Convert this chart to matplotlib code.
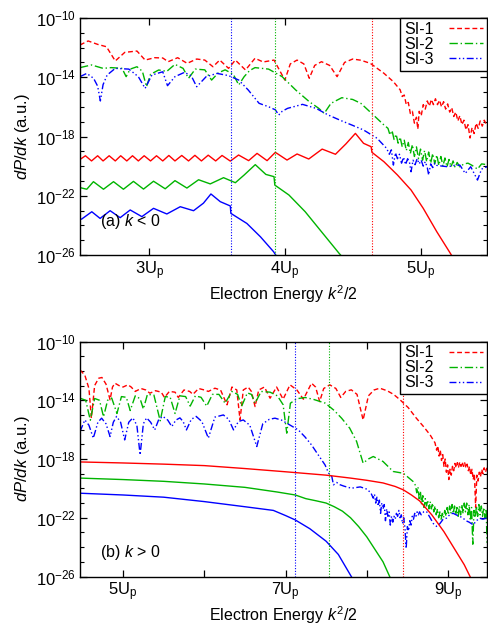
import numpy as np
import matplotlib
matplotlib.use("Agg")
import matplotlib.pyplot as plt
from matplotlib.ticker import FixedLocator, LogLocator, NullFormatter, LogFormatterMathtext

plt.rcParams['font.family'] = ['Liberation Sans', 'DejaVu Sans']
plt.rcParams['mathtext.fontset'] = 'custom'
plt.rcParams['mathtext.rm'] = 'Liberation Sans'
plt.rcParams['mathtext.it'] = 'Liberation Sans:italic'
plt.rcParams['font.size'] = 11

# ---------------- panel (a) k < 0 : energies in Up, values as log10(dP/dk)
a_si1_x = [2.49, 2.55, 2.62, 2.685, 2.75, 2.82, 2.91, 2.97, 3.04, 3.10, 3.14, 3.21, 3.28, 3.35,
           3.41, 3.47, 3.52, 3.585, 3.635, 3.71, 3.78, 3.84, 3.92, 4.00, 4.04, 4.09, 4.14, 4.18,
           4.22, 4.27, 4.33, 4.385, 4.44, 4.50, 4.56, 4.63, 4.73, 4.80,
           4.85, 4.865, 4.88, 4.895, 4.91, 4.925, 4.94, 4.955, 4.97, 4.98, 4.99, 5.005, 5.02,
           5.035, 5.05, 5.065, 5.08, 5.095, 5.11, 5.125, 5.14, 5.155, 5.17, 5.185, 5.20, 5.215,
           5.23, 5.245, 5.26, 5.275, 5.29, 5.305, 5.32, 5.335, 5.35, 5.365, 5.38, 5.395, 5.41,
           5.425, 5.44, 5.455, 5.47, 5.485]
a_si1_y = [-11.82, -11.55, -11.78, -11.94, -12.9, -12.32, -12.23, -12.84, -12.68, -12.7, -12.95,
           -12.68, -13.06, -12.77, -12.84, -13.29, -12.84, -13.40, -12.84, -13.51, -12.72, -12.97,
           -12.84, -14.19, -13.1, -12.84, -13.1, -14.07, -13.2, -12.95, -13.2, -13.96, -13.0,
           -12.77, -12.85, -13.06, -13.73, -14.3,
           -14.85, -15.3, -15.2, -15.85, -15.7, -16.45, -16.3, -17.1, -16.7, -17.5, -16.3, -16.6,
           -15.85, -16.15, -15.6, -15.95, -15.5, -15.85, -15.45, -15.85, -15.55, -16.0, -15.65,
           -16.15, -15.8, -16.35, -16.05, -16.65, -16.35, -16.95, -16.6, -17.2, -16.9, -17.55,
           -17.2, -18.1, -17.4, -17.8, -17.1, -17.45, -16.95, -17.3, -16.9, -17.2]

a_si2_x = [2.49, 2.575, 2.66, 2.72, 2.80, 2.83, 2.86, 2.91, 2.95, 2.98, 3.01, 3.07, 3.13, 3.19,
           3.25, 3.29, 3.34, 3.41, 3.46, 3.51, 3.56, 3.62, 3.66, 3.70, 3.74, 3.78, 3.88, 3.98,
           4.08, 4.18, 4.25, 4.29, 4.34, 4.42, 4.50, 4.56, 4.64, 4.73,
           4.76, 4.775, 4.79, 4.805, 4.82, 4.835, 4.85, 4.865, 4.88, 4.895, 4.91, 4.925, 4.94,
           4.955, 4.97, 4.985, 5.00, 5.015, 5.03, 5.045, 5.06, 5.075, 5.09, 5.105, 5.12, 5.135,
           5.15, 5.165, 5.18, 5.195, 5.21, 5.225, 5.24, 5.255, 5.27, 5.29, 5.32, 5.35, 5.38,
           5.42, 5.45, 5.49]
a_si2_y = [-13.35, -13.17, -13.40, -13.35, -13.4, -13.96, -13.45, -13.29, -13.6, -14.64, -13.8,
           -13.51, -13.6, -13.13, -13.4, -14.07, -13.45, -13.5, -14.19, -13.7, -13.5, -13.8,
           -14.52, -13.96, -13.55, -13.35, -13.45, -13.96, -14.86, -15.65, -16.1, -16.44, -15.76,
           -15.38, -15.5, -15.76, -16.44, -17.22,
           -17.45, -17.9, -17.6, -18.2, -17.85, -18.45, -18.05, -18.7, -18.25, -18.95, -18.4,
           -19.15, -18.55, -19.35, -18.7, -19.5, -18.85, -19.6, -18.95, -19.7, -19.05, -19.8,
           -19.15, -19.85, -19.25, -19.95, -19.35, -20.0, -19.45, -20.05, -19.55, -20.05, -19.65,
           -20.1, -19.75, -20.05, -19.85, -19.8, -19.95, -20.2, -19.85, -19.9]

a_si3_x = [2.49, 2.54, 2.59, 2.62, 2.64, 2.66, 2.69, 2.75, 2.85, 2.92, 2.97, 3.02, 3.10, 3.135,
           3.19, 3.26, 3.31, 3.35, 3.42, 3.50, 3.585, 3.66, 3.73, 3.81, 3.88, 3.93, 3.955, 3.98,
           4.02, 4.13, 4.23, 4.32, 4.42, 4.50, 4.58, 4.68, 4.75,
           4.77, 4.785, 4.80, 4.815, 4.83, 4.845, 4.86, 4.875, 4.89, 4.905, 4.92, 4.93, 4.945,
           4.96, 4.975, 4.99, 5.005, 5.02, 5.035, 5.05, 5.06, 5.075, 5.09, 5.105, 5.12, 5.16,
           5.20, 5.25, 5.29, 5.33, 5.37, 5.42, 5.45, 5.49]
a_si3_y = [-13.96, -13.74, -14.07, -14.6, -15.6, -14.5, -13.85, -13.40, -13.45, -13.96, -14.75,
           -13.85, -13.63, -14.57, -13.96, -13.67, -13.9, -14.64, -13.96, -13.74, -13.89, -14.19,
           -14.86, -15.76, -15.99, -16.2, -16.55, -16.3, -16.10, -15.83, -16.1, -16.55, -16.95,
           -17.25, -17.56, -18.12, -18.8,
           -19.2, -18.9, -19.93, -19.1, -19.5, -19.2, -19.8, -19.4, -19.9, -19.5, -19.8, -20.38,
           -19.6, -19.9, -19.5, -19.85, -19.6, -20.0, -19.7, -20.1, -20.6, -19.85, -20.1, -19.8,
           -19.95, -20.0, -20.04, -19.95, -19.93, -20.49, -20.04, -20.94, -20.2, -20.04]

a_si1s_x = [2.49, 2.53, 2.575, 2.62, 2.66, 2.705, 2.75, 2.79, 2.835, 2.877, 2.92, 2.963, 3.01,
            3.054, 3.10, 3.145, 3.19, 3.24, 3.29, 3.337, 3.385, 3.435, 3.49, 3.537, 3.598, 3.659,
            3.733, 3.795, 3.869, 3.93, 4.016, 4.09, 4.176, 4.275, 4.373, 4.45, 4.52, 4.58, 4.636,
            4.642, 4.73, 4.83, 4.93, 5.02, 5.12, 5.22, 5.24]
a_si1s_y = [-19.55, -19.30, -19.65, -19.30, -19.65, -19.30, -19.65, -19.30, -19.65, -19.30,
            -19.65, -19.30, -19.65, -19.30, -19.65, -19.28, -19.65, -19.28, -19.65, -19.27,
            -19.65, -19.26, -19.65, -19.28, -19.66, -19.25, -19.63, -19.14, -19.63, -19.07,
            -19.59, -19.18, -19.52, -18.85, -19.20, -18.5, -17.79, -18.46, -18.69, -19.07,
            -19.70, -20.6, -21.61, -22.85, -24.43, -25.89, -26.2]

a_si2s_x = [2.49, 2.54, 2.589, 2.663, 2.737, 2.81, 2.884, 2.958, 3.032, 3.118, 3.19, 3.278,
            3.364, 3.45, 3.548, 3.635, 3.70, 3.782, 3.86, 3.92, 3.926, 4.03, 4.15, 4.27, 4.40, 4.42]
a_si2s_y = [-21.45, -21.56, -21.05, -21.56, -21.05, -21.56, -21.03, -21.55, -21.02, -21.53,
            -20.98, -21.48, -20.92, -21.2, -20.78, -21.12, -20.6, -19.90, -20.56, -20.71,
            -21.28, -21.95, -23.08, -24.43, -25.89, -26.1]

a_si3s_x = [2.49, 2.503, 2.577, 2.638, 2.712, 2.786, 2.86, 2.946, 3.032, 3.13, 3.229, 3.327,
            3.40, 3.455, 3.524, 3.598, 3.602, 3.72, 3.82, 3.917, 3.94]
a_si3s_y = [-23.6, -23.57, -23.08, -23.53, -23.01, -23.48, -22.96, -23.41, -22.85, -23.23,
            -22.74, -23.01, -22.5, -21.88, -22.40, -22.69, -23.19, -23.87, -24.77, -25.78, -26.1]

a_vlines = [3.60, 3.925, 4.64]

# ---------------- panel (b) k > 0
b_si1_x = [4.47, 4.53, 4.58, 4.61, 4.65, 4.70, 4.74, 4.79, 4.84, 4.87, 4.90, 4.95, 5.00, 5.06,
           5.10, 5.15, 5.22, 5.28, 5.33, 5.40, 5.47, 5.51, 5.57, 5.64, 5.68, 5.75, 5.82, 5.86,
           5.93, 6.00, 6.05, 6.13, 6.20, 6.28, 6.34, 6.40, 6.44, 6.48, 6.54, 6.58, 6.625, 6.67,
           6.74, 6.81, 6.89, 6.97, 7.055, 7.14, 7.22, 7.32, 7.37, 7.42, 7.47, 7.545, 7.62, 7.68,
           7.74, 7.81, 7.88, 7.955, 8.02, 8.09, 8.16, 8.25, 8.33, 8.41, 8.51, 8.61, 8.70, 8.78,
           8.84, 8.86, 8.875, 8.89, 8.905, 8.92, 8.935, 8.95, 8.965, 8.98, 8.995, 9.01, 9.025,
           9.04, 9.055, 9.07, 9.085, 9.10, 9.115, 9.13, 9.145, 9.16, 9.175, 9.19, 9.205, 9.22,
           9.235, 9.25, 9.265, 9.28, 9.295, 9.31, 9.325, 9.34, 9.355, 9.37, 9.385, 9.40, 9.415,
           9.43, 9.445, 9.46, 9.48]
b_si1_y = [-11.93, -12.3, -13.2, -15.22, -13.0, -12.5, -12.45, -12.9, -13.97, -13.1, -12.84,
           -13.0, -13.1, -12.95, -13.1, -13.40, -13.2, -13.3, -13.52, -13.35, -13.45, -13.81,
           -13.4, -13.45, -13.81, -13.3, -13.4, -13.6, -13.2, -13.3, -13.4, -13.18, -13.3, -14.31,
           -13.1, -13.3, -15.34, -13.3, -13.1, -13.4, -14.43, -13.3, -13.1, -13.86, -13.1, -13.93,
           -12.95, -13.3, -13.93, -12.84, -13.1, -14.09, -13.2, -12.95, -13.2, -13.81, -13.4,
           -13.29, -13.6, -15.34, -13.7, -13.3, -13.18, -13.35, -13.6, -13.97, -14.5, -15.22,
           -15.8, -16.36, -16.9, -17.4, -17.1, -17.8, -17.4, -18.1, -17.7, -18.5, -18.0, -18.9,
           -18.4, -19.4, -18.7, -19.1, -18.5, -18.8, -18.3, -18.6, -18.25, -18.55, -18.2, -18.5,
           -18.2, -18.5, -18.25, -18.6, -18.35, -18.8, -18.5, -19.1, -18.7, -19.4, -19.0, -21.3,
           -19.1, -19.5, -18.9, -19.2, -18.7, -19.0, -18.6, -18.9, -18.6]

b_si2_x = [4.47, 4.54, 4.597, 4.65, 4.71, 4.76, 4.81, 4.86, 4.925, 4.98, 5.04, 5.088, 5.15,
           5.21, 5.25, 5.30, 5.38, 5.457, 5.52, 5.58, 5.64, 5.70, 5.77, 5.826, 5.89, 5.96, 6.03,
           6.10, 6.18, 6.256, 6.34, 6.41, 6.46, 6.53, 6.58, 6.625, 6.70, 6.81, 6.90, 6.97, 7.015,
           7.06, 7.14, 7.24, 7.35, 7.49, 7.60, 7.69, 7.79, 7.875, 7.955, 8.02, 8.08, 8.20, 8.325,
           8.45, 8.57, 8.60, 8.615, 8.63, 8.645, 8.66, 8.675, 8.69, 8.705, 8.72, 8.735, 8.75,
           8.765, 8.78, 8.795, 8.81, 8.825, 8.84, 8.855, 8.87, 8.885, 8.90, 8.915, 8.93, 8.945,
           8.96, 8.975, 8.99, 9.005, 9.02, 9.035, 9.05, 9.065, 9.08, 9.095, 9.11, 9.125, 9.14,
           9.155, 9.17, 9.185, 9.20, 9.215, 9.23, 9.245, 9.26, 9.275, 9.29, 9.305, 9.32, 9.335,
           9.35, 9.365, 9.38, 9.395, 9.41, 9.425, 9.44, 9.455, 9.47, 9.48]
b_si2_y = [-13.86, -14.0, -15.36, -13.88, -14.0, -15.13, -14.0, -13.85, -14.9, -13.75, -13.8,
           -14.7, -13.7, -13.9, -14.6, -13.6, -13.65, -15.4, -13.75, -13.8, -14.9, -13.7, -13.75,
           -14.4, -13.7, -13.8, -14.4, -13.6, -13.6, -14.2, -13.40, -13.6, -14.4, -13.5, -13.6,
           -14.2, -13.4, -13.45, -13.7, -14.3, -16.24, -14.2, -13.9, -13.81, -13.95, -14.2, -14.7,
           -15.22, -15.90, -16.81, -18.28, -18.0, -17.83, -18.17, -18.85, -18.97, -19.53, -19.8,
           -20.3, -19.9, -20.7, -20.2, -21.1, -20.5, -21.3, -20.7, -21.2, -20.8, -21.4, -20.9,
           -21.4, -21.0, -21.6, -21.2, -21.8, -21.4, -22.0, -21.6, -22.1, -21.7, -22.0, -21.5,
           -21.9, -21.3, -21.8, -21.2, -21.7, -21.1, -21.7, -21.2, -21.8, -21.3, -21.9, -21.2,
           -21.8, -21.1, -21.7, -21.0, -21.6, -21.0, -21.8, -21.1, -22.2, -21.3, -23.8, -21.5,
           -22.0, -21.2, -21.9, -21.1, -21.8, -21.2, -21.9, -21.3, -22.0, -21.4, -23.7]

b_si3_x = [4.47, 4.53, 4.58, 4.634, 4.69, 4.736, 4.79, 4.84, 4.88, 4.92, 4.97, 5.02, 5.07, 5.12,
           5.17, 5.21, 5.25, 5.29, 5.34, 5.39, 5.44, 5.49, 5.55, 5.60, 5.65, 5.70, 5.74, 5.78,
           5.84, 5.90, 5.97, 6.05, 6.13, 6.235, 6.30, 6.36, 6.42, 6.48, 6.56, 6.646, 6.72, 6.80,
           6.87, 6.95, 7.015, 7.157, 7.24, 7.32, 7.40, 7.486, 7.53, 7.57, 7.59, 7.63, 7.67, 7.72,
           7.81, 7.92, 8.00, 8.05, 8.08, 8.095, 8.11, 8.125, 8.14, 8.155, 8.17, 8.185, 8.20,
           8.215, 8.23, 8.245, 8.26, 8.275, 8.29, 8.305, 8.32, 8.335, 8.35, 8.365, 8.38, 8.395,
           8.41, 8.425, 8.44, 8.455, 8.47, 8.485, 8.50, 8.515, 8.53, 8.545, 8.56, 8.575, 8.59,
           8.605, 8.62, 8.635, 8.65, 8.67, 8.70, 8.735, 8.78, 8.82, 8.86, 8.90, 8.94, 8.98, 9.02,
           9.06, 9.10, 9.14, 9.18, 9.22, 9.26, 9.31, 9.35, 9.39, 9.43, 9.48]
b_si3_y = [-16.13, -15.34, -15.7, -16.58, -15.5, -15.22, -15.6, -16.47, -15.5, -15.1, -15.5,
           -16.70, -15.5, -15.2, -15.7, -17.72, -15.6, -15.2, -15.5, -16.02, -15.3, -15.1, -15.35,
           -15.79, -15.35, -15.2, -15.45, -16.02, -15.3, -15.1, -15.45, -16.58, -15.15, -15.0,
           -15.3, -16.02, -15.45, -15.34, -15.7, -17.15, -15.6, -15.3, -15.22, -15.35, -15.56,
           -16.02, -16.5, -17.04, -17.7, -18.40, -18.95, -19.2, -19.76, -19.6, -19.75, -19.85,
           -19.99, -19.9, -20.05, -20.3, -20.67, -20.4, -21.0, -20.6, -21.2, -20.8, -21.7, -21.0,
           -21.4, -21.1, -22.2, -21.4, -21.9, -21.6, -22.5, -21.9, -22.3, -21.9, -22.1, -21.7,
           -21.9, -21.5, -22.0, -21.8, -22.4, -22.0, -22.7, -24.1, -22.6, -22.9, -22.2, -22.5,
           -21.9, -22.1, -21.7, -21.9, -21.6, -21.8, -21.6, -21.8, -21.6, -21.57, -22.0, -22.4,
           -22.59, -22.4, -22.1, -22.03, -21.8, -21.69, -21.8, -21.9, -22.0, -22.2, -22.3, -22.48,
           -22.2, -22.03, -22.1, -22.0]

b_si1s_x = [4.47, 5.0, 5.5, 6.0, 6.5, 7.0, 7.5, 7.8, 8.0, 8.2, 8.35, 8.45, 8.55, 8.65, 8.8,
            8.95, 9.1, 9.2, 9.28]
b_si1s_y = [-18.20, -18.27, -18.35, -18.45, -18.65, -18.87, -19.10, -19.30, -19.45, -19.63,
            -19.87, -20.10, -20.45, -20.85, -21.8, -22.95, -24.3, -25.2, -26.1]
b_si2s_x = [4.47, 5.0, 5.5, 6.0, 6.5, 6.9, 7.12, 7.25, 7.38, 7.5, 7.6, 7.7, 7.8, 7.9, 8.0, 8.1,
            8.2, 8.29]
b_si2s_y = [-19.30, -19.40, -19.52, -19.70, -19.93, -20.25, -20.45, -20.7, -20.85, -21.0,
            -21.25, -21.55, -22.0, -22.6, -23.3, -24.15, -25.0, -26.1]
b_si3s_x = [4.47, 5.0, 5.5, 6.0, 6.5, 6.85, 7.0, 7.12, 7.3, 7.5, 7.65, 7.82]
b_si3s_y = [-20.33, -20.45, -20.6, -20.9, -21.25, -21.5, -21.85, -22.15, -22.75, -23.6, -24.5,
            -26.1]

b_vlines = [7.12, 7.53, 8.44]

labels = ['SI-1', 'SI-2', 'SI-3']
colors = ['#ff0000', '#00b400', '#0000ff']
dashes = [(0, (3.5, 2.0)), (0, (6, 2, 1, 2)), (0, (5, 1.8, 1, 1.8, 1, 1.8))]

fig = plt.figure(figsize=(4.88, 6.27), dpi=100)
ax1 = fig.add_axes([80 / 488, 1 - 255 / 627, 407 / 488, 237 / 627])
ax2 = fig.add_axes([80 / 488, 1 - 576.5 / 627, 407 / 488, 235 / 627])

panels = [
    (ax1, [(a_si1_x, a_si1_y), (a_si2_x, a_si2_y), (a_si3_x, a_si3_y)],
     [(a_si1s_x, a_si1s_y), (a_si2s_x, a_si2s_y), (a_si3s_x, a_si3s_y)],
     a_vlines, (2.49, 5.49), [3, 4, 5], ['3U$_\\mathrm{p}$', '4U$_\\mathrm{p}$', '5U$_\\mathrm{p}$'],
     '(a) $k$ < 0', 0.14),
    (ax2, [(b_si1_x, b_si1_y), (b_si2_x, b_si2_y), (b_si3_x, b_si3_y)],
     [(b_si1s_x, b_si1s_y), (b_si2s_x, b_si2s_y), (b_si3s_x, b_si3s_y)],
     b_vlines, (4.47, 9.48), [5, 6, 7, 8, 9],
     ['5U$_\\mathrm{p}$', '', '7U$_\\mathrm{p}$', '', '9U$_\\mathrm{p}$'],
     '(b) $k$ > 0', 0.10),
]

for ax, dashed, solid, vls, xlim, xt, xtl, tag, ty in panels:
    for (x, y), c, ls, lab in zip(dashed, colors, dashes, labels):
        ax.plot(x, 10.0 ** np.array(y), color=c, linestyle=ls, lw=1.0, label=lab)
    for (x, y), c in zip(solid, colors):
        ax.plot(x, 10.0 ** np.array(y), color=c, lw=1.0)
    for v, c in zip(vls, ['#0000ff', '#00b400', '#ff0000']):
        ax.axvline(v, color=c, lw=0.8, linestyle=(0, (1, 1.5)))
    ax.set_yscale('log')
    ax.set_ylim(1e-26, 1e-10)
    ax.set_xlim(*xlim)
    ax.yaxis.set_major_locator(FixedLocator([1e-26, 1e-22, 1e-18, 1e-14, 1e-10]))
    ax.yaxis.set_major_formatter(LogFormatterMathtext())
    ax.yaxis.set_minor_locator(LogLocator(base=10, subs=(1.0,), numticks=40))
    ax.yaxis.set_minor_formatter(NullFormatter())
    ax.set_xticks(xt)
    ax.set_xticklabels(xtl)
    ax.tick_params(which='both', direction='in', top=True, right=True, labelsize=12)
    ax.tick_params(axis='y', pad=3)
    ax.tick_params(axis='x', pad=3)
    ax.tick_params(which='major', length=5, width=0.9)
    ax.tick_params(which='minor', length=3, width=0.8)
    for s in ax.spines.values():
        s.set_linewidth(1.0)
    ax.set_xlabel('Electron Energy $k^2$/2', fontsize=11.5, labelpad=1)
    ax.set_ylabel('$dP/dk$ (a.u.)', fontsize=12, labelpad=3)
    ax.text(0.049, ty, tag, transform=ax.transAxes, fontsize=11.5, va='center', ha='left')
    leg = ax.legend(loc='upper right', bbox_to_anchor=(1.0, 1.0), borderaxespad=0,
                    markerfirst=False, fancybox=False, framealpha=1, edgecolor='black',
                    fontsize=11.5, handlelength=2.1, handletextpad=1.0, labelspacing=0.0,
                    borderpad=0.25)
    leg.get_frame().set_linewidth(1.0)

fig.savefig('out.png', dpi=100)
